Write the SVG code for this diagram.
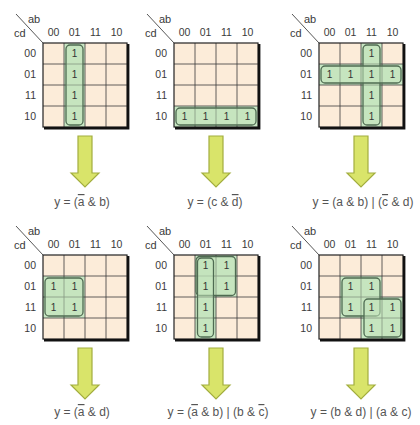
<svg xmlns="http://www.w3.org/2000/svg" width="420" height="425" viewBox="0 0 420 425">
<style>
.bg{fill:#fcecd9}
.on{fill:#c9e7c4}
.gl{stroke:#3a3a3a;stroke-width:0.8;fill:none}
.frame{stroke:#222;stroke-width:1.2;fill:none}
.shadow{stroke:#111;stroke-width:2.4;fill:none}
.loop{fill:#c2e3bc;fill-opacity:0.55;stroke:#4f6b52;stroke-width:1.3}
.lbl{font-family:"Liberation Sans",Arial,sans-serif;font-size:10.5px;fill:#3a3a3a}
.big{font-size:11px}
.one{font-family:"Liberation Sans",Arial,sans-serif;font-size:10px;fill:#333;text-anchor:middle}
.rl{text-anchor:end}
.cl{text-anchor:middle}
.eq{font-family:"Liberation Sans",Arial,sans-serif;font-size:12px;fill:#555;text-anchor:middle}
.arrow{fill:#d9e46a;stroke:#a2ad3e;stroke-width:1.2;stroke-linejoin:miter}
.ov{text-decoration:overline}
</style>
<defs>
<g id="frame">
<rect class="bg" x="0" y="0" width="84" height="84"/>
</g>
<g id="lines">
<path class="gl" d="M21 0V84M42 0V84M63 0V84M0 21H84M0 42H84M0 63H84"/>
<rect class="frame" x="0" y="0" width="84" height="84"/>
<path class="shadow" d="M1 85.2H85.2V1"/>
</g>
<g id="labels">
<line x1="-27" y1="-29" x2="0" y2="0" stroke="#444" stroke-width="0.9"/>
<text class="lbl big" x="-15" y="-20">ab</text>
<text class="lbl big" x="-29" y="-6">cd</text>
<text class="lbl cl" x="10.5" y="-7">00</text>
<text class="lbl cl" x="31.5" y="-7">01</text>
<text class="lbl cl" x="52.5" y="-7">11</text>
<text class="lbl cl" x="73.5" y="-7">10</text>
<text class="lbl rl" x="-7" y="14">00</text>
<text class="lbl rl" x="-7" y="35">01</text>
<text class="lbl rl" x="-7" y="56">11</text>
<text class="lbl rl" x="-7" y="77">10</text>
</g>
</defs>

<g id="kmap1" transform="translate(43,43)">
<use href="#frame"/>
<rect class="on" x="21" y="0" width="21" height="84"/>
<use href="#lines"/>
<rect class="loop" x="23" y="2" width="17" height="80" rx="4"/>
<text class="one" x="31.5" y="14">1</text><text class="one" x="31.5" y="35">1</text><text class="one" x="31.5" y="56">1</text><text class="one" x="31.5" y="77">1</text>
<use href="#labels"/>
</g>

<g id="kmap2" transform="translate(174,43)">
<use href="#frame"/>
<rect class="on" x="0" y="63" width="84" height="21"/>
<use href="#lines"/>
<rect class="loop" x="2" y="65" width="80" height="17" rx="4"/>
<text class="one" x="10.5" y="77">1</text><text class="one" x="31.5" y="77">1</text><text class="one" x="52.5" y="77">1</text><text class="one" x="73.5" y="77">1</text>
<use href="#labels"/>
</g>

<g id="kmap3" transform="translate(319,43)">
<use href="#frame"/>
<rect class="on" x="42" y="0" width="21" height="84"/>
<rect class="on" x="0" y="21" width="84" height="21"/>
<use href="#lines"/>
<rect class="loop" x="44" y="2" width="17" height="80" rx="4"/>
<rect class="loop" x="2" y="23" width="80" height="17" rx="4"/>
<text class="one" x="52.5" y="14">1</text><text class="one" x="52.5" y="35">1</text><text class="one" x="52.5" y="56">1</text><text class="one" x="52.5" y="77">1</text>
<text class="one" x="10.5" y="35">1</text><text class="one" x="31.5" y="35">1</text><text class="one" x="73.5" y="35">1</text>
<use href="#labels"/>
</g>

<g id="kmap4" transform="translate(43,255)">
<use href="#frame"/>
<rect class="on" x="0" y="21" width="42" height="42"/>
<use href="#lines"/>
<rect class="loop" x="2" y="23" width="38" height="38" rx="4"/>
<text class="one" x="10.5" y="35">1</text><text class="one" x="31.5" y="35">1</text><text class="one" x="10.5" y="56">1</text><text class="one" x="31.5" y="56">1</text>
<use href="#labels"/>
</g>

<g id="kmap5" transform="translate(174,255)">
<use href="#frame"/>
<rect class="on" x="21" y="0" width="21" height="84"/>
<rect class="on" x="42" y="0" width="21" height="42"/>
<use href="#lines"/>
<rect class="loop" x="22" y="1.5" width="39.5" height="39" rx="4"/>
<rect class="loop" x="23.5" y="3" width="16" height="79" rx="4"/>
<text class="one" x="31.5" y="14">1</text><text class="one" x="31.5" y="35">1</text><text class="one" x="31.5" y="56">1</text><text class="one" x="31.5" y="77">1</text>
<text class="one" x="52.5" y="14">1</text><text class="one" x="52.5" y="35">1</text>
<use href="#labels"/>
</g>

<g id="kmap6" transform="translate(319,255)">
<use href="#frame"/>
<rect class="on" x="21" y="21" width="42" height="42"/>
<rect class="on" x="42" y="42" width="42" height="42"/>
<use href="#lines"/>
<rect class="loop" x="23" y="23" width="38" height="38" rx="4"/>
<rect class="loop" x="45" y="44" width="37" height="38" rx="4"/>
<text class="one" x="31.5" y="35">1</text><text class="one" x="52.5" y="35">1</text>
<text class="one" x="31.5" y="56">1</text><text class="one" x="52.5" y="56">1</text><text class="one" x="73.5" y="56">1</text>
<text class="one" x="52.5" y="77">1</text><text class="one" x="73.5" y="77">1</text>
<use href="#labels"/>
</g>

<g id="connectors">
<path class="arrow" d="M78 136H92V173H99L85 187L71 173H78Z"/>
<path class="arrow" d="M209 136H223V173H230L216 187L202 173H209Z"/>
<path class="arrow" d="M354 136H368V173H375L361 187L347 173H354Z"/>
<path class="arrow" d="M78 348H92V385H99L85 399L71 385H78Z"/>
<path class="arrow" d="M209 348H223V385H230L216 399L202 385H209Z"/>
<path class="arrow" d="M354 348H368V385H375L361 399L347 385H354Z"/>
</g>

<g id="formulas">
<text class="eq" x="82" y="206">y = (<tspan class="ov">a</tspan> &amp; b)</text>
<text class="eq" x="215" y="206">y = (c &amp; <tspan class="ov">d</tspan>)</text>
<text class="eq" x="363" y="206">y = (a &amp; b) | (<tspan class="ov">c</tspan> &amp; d)</text>
<text class="eq" x="82" y="416">y = (<tspan class="ov">a</tspan> &amp; d)</text>
<text class="eq" x="218" y="416">y = (<tspan class="ov">a</tspan> &amp; b) | (b &amp; <tspan class="ov">c</tspan>)</text>
<text class="eq" x="361" y="416">y = (b &amp; d) | (a &amp; c)</text>
</g>
</svg>
